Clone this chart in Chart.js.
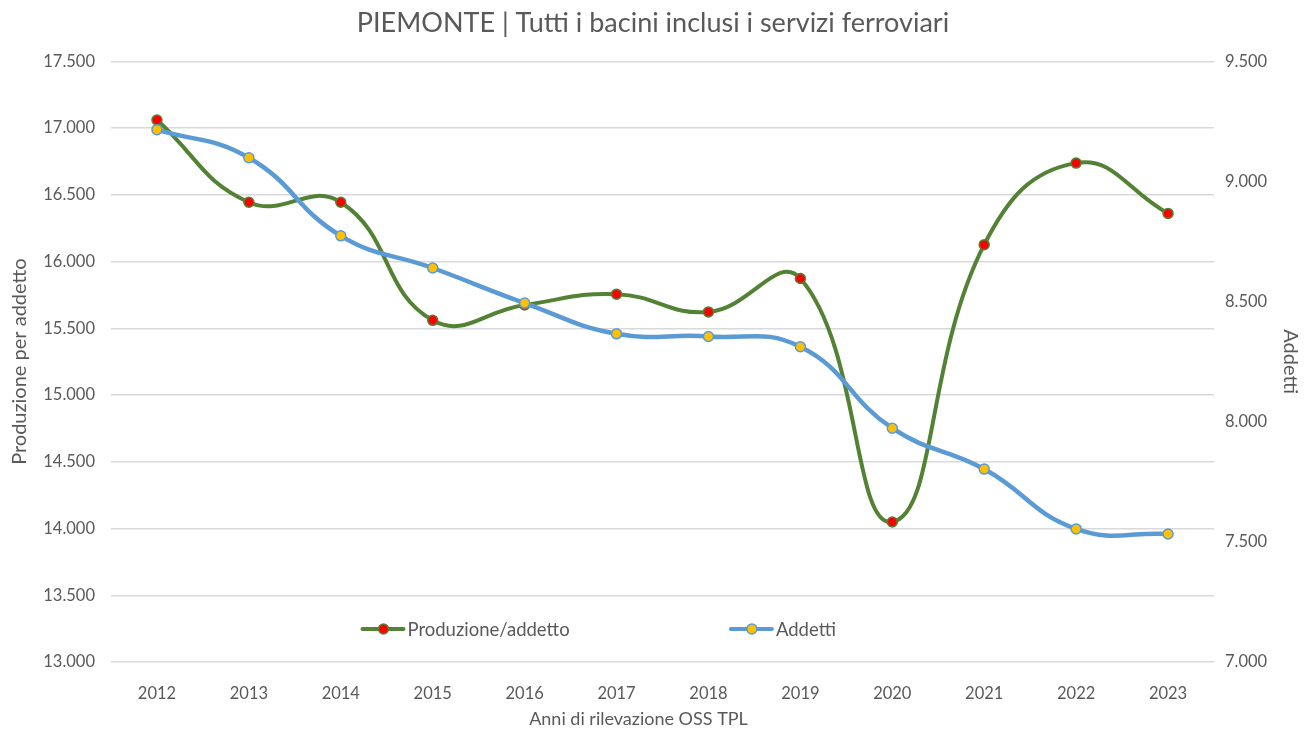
<!DOCTYPE html>
<html>
<head>
<meta charset="utf-8">
<script src="https://cdn.jsdelivr.net/npm/chart.js@4.4.1/dist/chart.umd.min.js"></script>
<style>
	html, body { margin: 0; padding: 0; background: #fff; }
	#wrap { width: 1306px; height: 729px; position: relative; }
</style>
</head>
<body>
<div id="wrap"><canvas id="chart"></canvas></div>
<script>
// values
const years = ['2012', '2013', '2014', '2015', '2016', '2017', '2018', '2019', '2020', '2021', '2022', '2023'];
const produzionePerAddetto = [17061, 16445, 16445, 15560, 15675, 15756, 15623, 15873, 14049, 16127, 16738, 16361];
const addetti = [9216, 9099, 8774, 8640, 8494, 8366, 8355, 8312, 7973, 7803, 7554, 7533];
const leftTicks = [13000, 17500, 500];
const rightTicks = [7000, 9500, 500];

const FONT = 'Lato, "Open Sans", sans-serif';
const GREY = '#595959';
const GREEN = '#548235';
const BLUE = '#5B9BD5';

const fmt = v => String(v).replace(/\B(?=(\d{3})+(?!\d))/g, '.');

// legend inside the plot area + x axis title (sits a bit left of centre in the original)
const extras = {
	id: 'extras',
	afterDraw(chart) {
		const ctx = chart.ctx;
		const area = chart.chartArea;
		const w = area.right - area.left;
		const y = area.bottom - 33;
		const items = [
			{ label: 'Produzione/addetto', line: GREEN, fill: '#FF0000', x: area.left + w * 0.228 },
			{ label: 'Addetti', line: BLUE, fill: '#FFC000', x: area.left + w * 0.562 }
		];
		ctx.save();
		items.forEach(it => {
			ctx.strokeStyle = it.line;
			ctx.lineWidth = 4;
			ctx.lineCap = 'round';
			ctx.beginPath();
			ctx.moveTo(it.x, y);
			ctx.lineTo(it.x + 41, y);
			ctx.stroke();
			ctx.beginPath();
			ctx.arc(it.x + 21, y, 5, 0, Math.PI * 2);
			ctx.fillStyle = it.fill;
			ctx.fill();
			ctx.lineWidth = 1.5;
			ctx.stroke();
			ctx.fillStyle = GREY;
			ctx.font = '18.5px ' + FONT;
			ctx.textBaseline = 'middle';
			ctx.textAlign = 'left';
			ctx.fillText(it.label, it.x + 45, y + 1);
		});
		ctx.font = '18px ' + FONT;
		ctx.textAlign = 'center';
		ctx.textBaseline = 'middle';
		ctx.fillText('Anni di rilevazione OSS TPL', area.left + w / 2 - 24, area.bottom + 57);
		ctx.restore();
	}
};

const ctx = document.getElementById('chart').getContext('2d');
new Chart(ctx, {
	type: 'line',
	data: {
		labels: years,
		datasets: [{
			label: 'Produzione/addetto',
			data: produzionePerAddetto,
			yAxisID: 'y',
			borderColor: GREEN,
			borderWidth: 4,
			tension: 0.45,
			pointRadius: 5,
			pointBackgroundColor: '#FF0000',
			pointBorderColor: GREEN,
			pointBorderWidth: 1.5,
			order: 1
		}, {
			label: 'Addetti',
			data: addetti,
			yAxisID: 'y1',
			borderColor: BLUE,
			borderWidth: 4.5,
			tension: 0.45,
			pointRadius: 5,
			pointBackgroundColor: '#FFC000',
			pointBorderColor: BLUE,
			pointBorderWidth: 1.5,
			order: 0
		}]
	},
	options: {
		responsive: true,
		maintainAspectRatio: false,
		animation: false,
		layout: { padding: 0 },
		plugins: {
			legend: { display: false },
			tooltip: { enabled: false },
			title: {
				display: true,
				text: 'PIEMONTE | Tutti i bacini inclusi i servizi ferroviari',
				color: GREY,
				font: { family: FONT, size: 27, weight: 'normal' },
				padding: { top: 7, bottom: 22 }
			}
		},
		scales: {
			x: {
				offset: true,
				grid: { display: false },
				border: { display: false },
				ticks: { color: GREY, font: { family: FONT, size: 16.5 }, padding: 14 },
				afterFit: s => { s.height = 67; }
			},
			y: {
				position: 'left',
				min: leftTicks[0],
				max: leftTicks[1],
				ticks: { stepSize: leftTicks[2], color: GREY, font: { family: FONT, size: 16.5 }, padding: 16, callback: fmt },
				grid: { color: '#D9D9D9', lineWidth: 1.5, drawTicks: false },
				border: { display: false },
				title: {
					display: true,
					text: 'Produzione per addetto',
					color: GREY,
					font: { family: FONT, size: 20 },
					padding: { top: 8, bottom: 4 }
				},
				afterFit: s => { s.width = 111; }
			},
			y1: {
				position: 'right',
				min: rightTicks[0],
				max: rightTicks[1],
				ticks: { stepSize: rightTicks[2], color: GREY, font: { family: FONT, size: 16.5 }, padding: 11, callback: fmt },
				grid: { display: false, drawTicks: false },
				border: { display: false },
				title: {
					display: true,
					text: 'Addetti',
					color: GREY,
					font: { family: FONT, size: 20 },
					padding: { top: 4, bottom: 2 }
				},
				afterFit: s => { s.width = 92; }
			}
		}
	},
	plugins: [extras]
});
</script>
</body>
</html>
